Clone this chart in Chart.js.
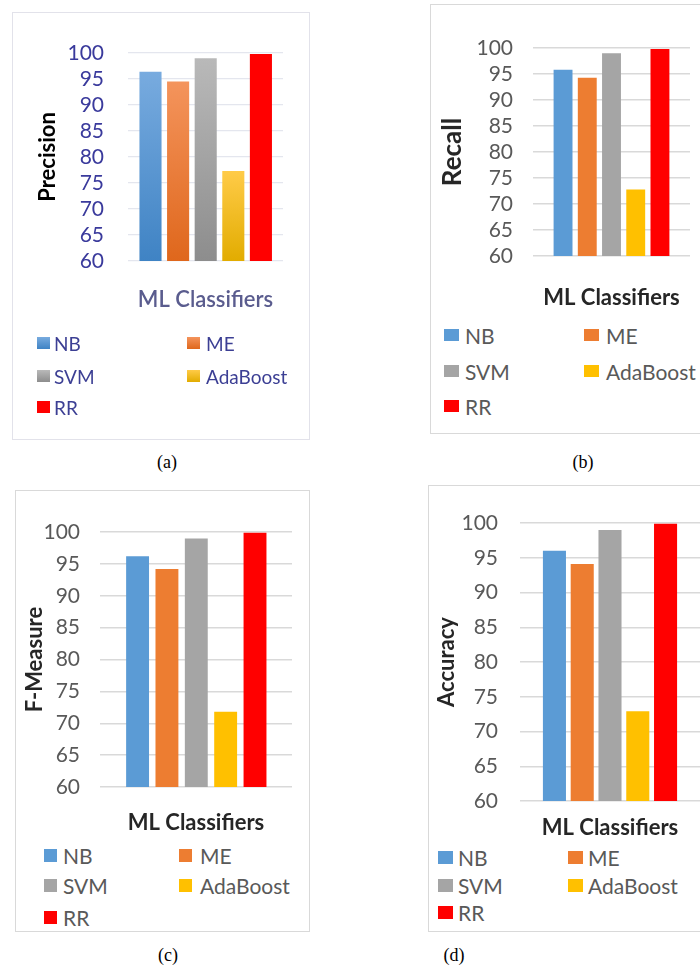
<!DOCTYPE html>
<html>
<head>
<meta charset="utf-8">
<script src="https://cdn.jsdelivr.net/npm/chart.js@4.4.1/dist/chart.umd.min.js"></script>
<style>
  html, body { margin: 0; padding: 0; background: #fff; }
  body { width: 700px; height: 970px; position: relative; overflow: hidden; }
  .frame { position: absolute; border: 1px solid #d9d9d9; box-sizing: border-box; }
  .cv { position: absolute; }
  .leg { position: absolute; font-family: Lato, "Noto Sans", sans-serif; white-space: nowrap; }
  .leg .box { position: absolute; }
  .leg .txt { position: absolute; transform: translateY(-50%); }
  .cap { position: absolute; font-family: "Liberation Serif", "Times New Roman", serif; font-size: 18px; color: #000; transform: translate(-50%, -50%); }
  #pa { filter: blur(0.45px); }
</style>
</head>
<body>

<div id="pa">
  <div class="frame" style="left:12px;top:12px;width:298px;height:428px;border-color:#e2e2ea"></div>
  <canvas id="cA" class="cv"></canvas>
  <div id="legA"></div>
</div>
<div class="frame" style="left:430px;top:4px;width:280px;height:430px"></div>
<canvas id="cB" class="cv"></canvas>
<div id="legB"></div>

<div class="frame" style="left:15px;top:490px;width:295px;height:442px"></div>
<canvas id="cC" class="cv"></canvas>
<div id="legC"></div>

<div class="frame" style="left:428px;top:485px;width:282px;height:447px"></div>
<canvas id="cD" class="cv"></canvas>
<div id="legD"></div>

<div class="cap" style="left:167px;top:462px">(a)</div>
<div class="cap" style="left:583px;top:462px">(b)</div>
<div class="cap" style="left:168px;top:955px">(c)</div>
<div class="cap" style="left:454px;top:955px">(d)</div>

<script>
// Classifiers compared in every panel
const classifiers = ['NB', 'ME', 'SVM', 'AdaBoost', 'RR'];

// Scores (%) per classifier
const precision = [96.4, 94.5, 99.0, 77.3, 99.8];
const recall    = [95.8, 94.3, 99.0, 72.8, 99.8];
const fMeasure  = [96.2, 94.2, 99.0, 71.8, 99.9];
const accuracy  = [96.0, 94.1, 99.0, 72.9, 99.9];

// Value axis
const yMin = 60;
const yMax = 100;
const yStep = 5;

// Office palette, plus lighter/darker shades used for the gradient panel
const barColors  = ['#5b9bd5', '#ed7d31', '#a5a5a5', '#ffc000', '#ff0000'];
const gradTop    = ['#78abdf', '#f4945c', '#b9b9b9', '#ffcb48', '#ff0000'];
const gradBottom = ['#3f83c4', '#df671c', '#8d8d8d', '#e2ac00', '#ff0000'];

const FONT = 'Lato, "Noto Sans", sans-serif';

function drawPanel(p) {
  const canvas = document.getElementById(p.id);
  const w = p.canvasRight - p.canvasLeft;
  const h = p.canvasBottom - p.canvasTop;
  canvas.style.left = p.canvasLeft + 'px';
  canvas.style.top = p.canvasTop + 'px';
  canvas.style.width = w + 'px';
  canvas.style.height = h + 'px';
  canvas.width = w;
  canvas.height = h;

  const titleSize = 22;
  const yTitleSize = p.yTitleSize || titleSize;
  const yTitleLH = yTitleSize * 1.2;

  const fill = p.gradient
    ? (ctx) => {
        const chart = ctx.chart;
        const area = chart.chartArea;
        const i = ctx.dataIndex;
        if (!area || ctx.parsed === undefined) return barColors[i];
        const top = chart.scales.y.getPixelForValue(p.values[i]);
        const g = chart.ctx.createLinearGradient(0, top, 0, area.bottom);
        g.addColorStop(0, gradTop[i]);
        g.addColorStop(1, gradBottom[i]);
        return g;
      }
    : barColors;

  new Chart(canvas, {
    type: 'bar',
    data: {
      datasets: [{
        label: p.yTitle,
        data: p.values.map((v, i) => ({ x: i, y: v })),
        backgroundColor: fill,
        borderWidth: 0,
        categoryPercentage: 1,
        barPercentage: p.barPct
      }]
    },
    options: {
      responsive: false,
      animation: false,
      devicePixelRatio: 1,
      layout: {
        padding: {
          left: 0,
          top: p.plotTop - p.canvasTop,
          right: p.canvasRight - p.plotRight,
          bottom: 0
        }
      },
      plugins: { legend: { display: false }, tooltip: { enabled: false } },
      scales: {
        x: {
          type: 'linear',
          min: p.xMin,
          max: p.xMax,
          offset: false,
          grid: { display: false },
          border: { display: false },
          ticks: { display: false },
          title: {
            display: true,
            text: 'ML Classifiers',
            color: p.xTitleColor,
            font: { family: FONT, size: titleSize, weight: p.xTitleWeight },
            padding: { top: 0, bottom: 0 }
          },
          afterFit: (s) => { s.height = p.canvasBottom - p.plotBottom; }
        },
        y: {
          min: yMin,
          max: yMax,
          grid: { color: p.gridColor, lineWidth: p.gridWidth, drawTicks: false },
          border: { display: false },
          ticks: {
            stepSize: yStep,
            autoSkip: false,
            padding: p.tickPad,
            color: p.tickColor,
            font: { family: FONT, size: p.tickSize }
          },
          title: {
            display: true,
            text: p.yTitle,
            color: p.yTitleColor,
            font: { family: FONT, size: yTitleSize, weight: 'bold' },
            padding: { top: p.yTitleX - p.canvasLeft - yTitleLH / 2, bottom: 0 }
          },
          afterFit: (s) => { s.width = p.plotLeft - p.canvasLeft; }
        }
      }
    }
  });

  // Two-column legend underneath the axis title
  const leg = document.getElementById(p.legId);
  leg.className = 'leg';
  classifiers.forEach((name, i) => {
    const col = i % 2;
    const row = Math.floor(i / 2);
    const cy = p.legRows[row];
    const box = document.createElement('div');
    box.className = 'box';
    box.style.left = p.legBoxX[col] + 'px';
    box.style.top = (cy - p.legBoxH / 2) + 'px';
    box.style.width = p.legBoxW + 'px';
    box.style.height = p.legBoxH + 'px';
    box.style.background = p.gradient
      ? 'linear-gradient(' + gradTop[i] + ',' + gradBottom[i] + ')'
      : barColors[i];
    const txt = document.createElement('div');
    txt.className = 'txt';
    txt.textContent = name;
    txt.style.left = p.legTextX[col] + 'px';
    txt.style.top = cy + 'px';
    txt.style.fontSize = p.legSize + 'px';
    txt.style.color = p.legColor;
    leg.appendChild(box);
    leg.appendChild(txt);
  });
}

drawPanel({
  id: 'cA', legId: 'legA', values: precision, yTitle: 'Precision', gradient: true,
  canvasLeft: 13, canvasTop: 13, canvasRight: 309, canvasBottom: 313,
  plotLeft: 128, plotRight: 283, plotTop: 53, plotBottom: 261,
  xMin: -0.815, xMax: 4.8, barPct: 0.8,
  tickPad: 24, tickSize: 21, tickColor: '#3a3a9c',
  gridColor: '#e4e6ee', gridWidth: 1.2,
  yTitleX: 48, yTitleColor: '#000000',
  xTitleColor: '#5a5c8e', xTitleWeight: '600',
  legRows: [343, 376, 407], legBoxX: [37, 187], legTextX: [54, 206],
  legBoxW: 13, legBoxH: 12, legSize: 19, legColor: '#3c3f94'
});

drawPanel({
  id: 'cB', legId: 'legB', values: recall, yTitle: 'Recall', yTitleSize: 26, gradient: false,
  canvasLeft: 431, canvasTop: 5, canvasRight: 700, canvasBottom: 311,
  plotLeft: 533, plotRight: 690, plotTop: 48, plotBottom: 256,
  xMin: -1.24, xMax: 5.24, barPct: 0.78,
  tickPad: 20, tickSize: 21, tickColor: '#595959',
  gridColor: '#d9d9d9', gridWidth: 1.5,
  yTitleX: 453, yTitleColor: '#262626',
  xTitleColor: '#262626', xTitleWeight: 'bold',
  legRows: [335, 371, 406], legBoxX: [444, 584], legTextX: [465, 606],
  legBoxW: 15, legBoxH: 12, legSize: 21, legColor: '#595959'
});

drawPanel({
  id: 'cC', legId: 'legC', values: fMeasure, yTitle: 'F-Measure', gradient: false,
  canvasLeft: 16, canvasTop: 491, canvasRight: 309, canvasBottom: 836,
  plotLeft: 100, plotRight: 292, plotTop: 532, plotBottom: 787,
  xMin: -1.28, xMax: 5.26, barPct: 0.78,
  tickPad: 20, tickSize: 21, tickColor: '#595959',
  gridColor: '#d9d9d9', gridWidth: 1.5,
  yTitleX: 35, yTitleColor: '#262626',
  xTitleColor: '#262626', xTitleWeight: 'bold',
  legRows: [855, 885, 917], legBoxX: [44, 179], legTextX: [63, 200],
  legBoxW: 13, legBoxH: 13, legSize: 21, legColor: '#595959'
});

drawPanel({
  id: 'cD', legId: 'legD', values: accuracy, yTitle: 'Accuracy', gradient: false,
  canvasLeft: 429, canvasTop: 486, canvasRight: 700, canvasBottom: 841,
  plotLeft: 520, plotRight: 700, plotTop: 523, plotBottom: 801,
  xMin: -1.24, xMax: 5.24, barPct: 0.83,
  tickPad: 22, tickSize: 21, tickColor: '#595959',
  gridColor: '#d9d9d9', gridWidth: 1.5,
  yTitleX: 447, yTitleColor: '#262626',
  xTitleColor: '#262626', xTitleWeight: 'bold',
  legRows: [857, 885, 912], legBoxX: [438, 568], legTextX: [458, 588],
  legBoxW: 15, legBoxH: 13, legSize: 21, legColor: '#595959'
});
</script>
</body>
</html>
